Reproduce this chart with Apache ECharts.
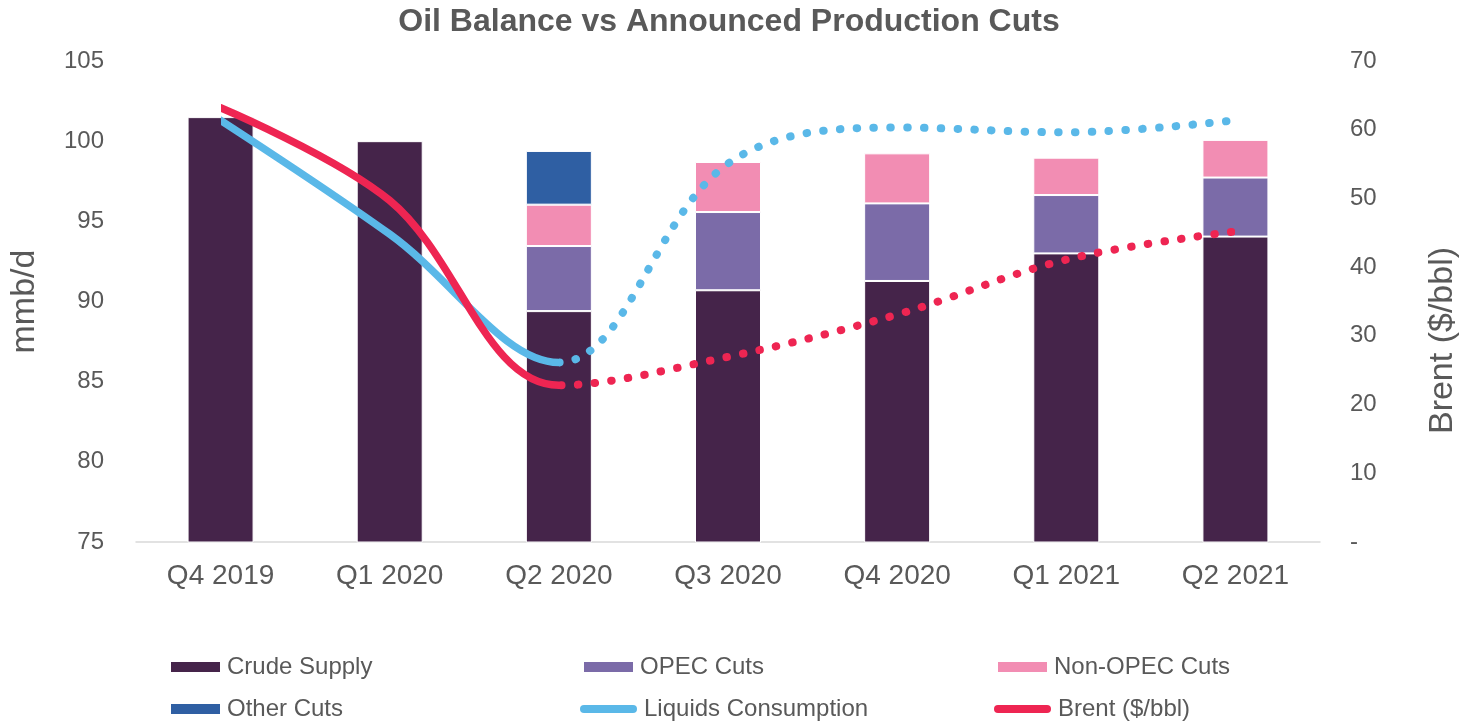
<!DOCTYPE html>
<html>
<head>
<meta charset="utf-8">
<script src="https://cdn.jsdelivr.net/npm/echarts@6/dist/echarts.min.js"></script>
<style>
html,body{margin:0;padding:0;background:#fff;}
#chart{width:1468px;height:723px;}
</style>
</head>
<body>
<div id="chart"></div>
<script>
var categories = ['Q4 2019', 'Q1 2020', 'Q2 2020', 'Q3 2020', 'Q4 2020', 'Q1 2021', 'Q2 2021'];
var crudeSupply = [101.5, 100.0, 89.4, 90.7, 91.28, 93.0, 94.05];
var opecCuts = [null, null, 4.06, 4.88, 4.84, 3.64, 3.68];
var nonOpecCuts = [null, null, 2.58, 3.12, 3.12, 2.33, 2.35];
var otherCuts = [null, null, 3.35, null, null, null, null];
var liquidsConsumption = [101.3, 94.2, 86.2, 98.6, 100.85, 100.55, 101.3];
var brent = [63.2, 49.7, 22.8, 26.95, 33.1, 41.1, 45.2];
var leftTicks = { min: 75, max: 105, interval: 5 };
var rightTicks = { min: 0, max: 70, interval: 10 };
var lastActualIndex = 2;

var C = {
  crude: '#45244A', opec: '#7B6BA8', nonopec: '#F28DB3', other: '#2F5FA3',
  liquids: '#5AB8E8', brent: '#EE2552', text: '#595959'
};
var FONT = 'Liberation Sans, Arial, sans-serif';
var CLEAR = 'rgba(255,255,255,0)';

var chart = echarts.init(document.getElementById('chart'));

function barSeries(name, data, color) {
  return {
    name: name, type: 'bar', stack: 'supply', data: data, barWidth: 66,
    yAxisIndex: 0,
    itemStyle: { color: color, borderColor: '#ffffff', borderWidth: 1 },
    emphasis: { disabled: true }
  };
}
function lineSeries(name, data, color, axis, dotted) {
  return {
    name: name, type: 'line', data: data, yAxisIndex: axis, smooth: 0.36,
    showSymbol: false, symbol: 'none',
    lineStyle: dotted
      ? { width: 8, type: [0.5, 16.3], cap: 'round', join: 'round' }
      : { width: 7.5, cap: 'round', join: 'round' },
    itemStyle: { color: color },
    emphasis: { disabled: true },
    z: 5
  };
}

var lineIcon = 'path://M4,0 L53,0 A4,4 0 0 1 53,8 L4,8 A4,4 0 0 1 4,0 Z';

function legend(name, icon, color, left, top, w, h) {
  return {
    show: true, left: left, top: top, orient: 'horizontal', padding: 0,
    itemWidth: w, itemHeight: h, selectedMode: false,
    textStyle: { color: C.text, fontSize: 24, fontFamily: FONT, lineHeight: 26, padding: [0, 0, 0, 2] },
    data: [{ name: name, icon: icon, itemStyle: { color: color, borderWidth: 0 }, lineStyle: { width: 0 } }]
  };
}
function sectionMap(seriesIndex, lo, hi, color) {
  return {
    show: false, type: 'piecewise', dimension: 0, seriesIndex: seriesIndex,
    pieces: [{ gte: lo, lte: hi, color: color }],
    outOfRange: { color: CLEAR }
  };
}

var last = categories.length - 1;

var option = {
  animation: false,
  backgroundColor: '#ffffff',
  title: {
    text: 'Oil Balance vs Announced Production Cuts',
    left: 729, top: 6, textAlign: 'center', padding: 0,
    textStyle: { color: C.text, fontSize: 32, fontWeight: 'bold', fontFamily: FONT }
  },
  legend: [
    legend('Crude Supply', 'rect', C.crude, 171, 654, 49, 10),
    legend('OPEC Cuts', 'rect', C.opec, 584, 654, 49, 10),
    legend('Non-OPEC Cuts', 'rect', C.nonopec, 998, 654, 49, 10),
    legend('Other Cuts', 'rect', C.other, 171, 696, 49, 10),
    legend('Liquids Consumption', lineIcon, C.liquids, 580, 696, 57, 8),
    legend('Brent ($/bbl)', lineIcon, C.brent, 994, 696, 57, 8)
  ],
  visualMap: [
    sectionMap(4, 0, lastActualIndex, C.liquids),
    sectionMap(5, lastActualIndex, last, C.liquids),
    sectionMap(6, 0, lastActualIndex, C.brent),
    sectionMap(7, lastActualIndex, last, C.brent)
  ],
  grid: { left: 136, right: 146, top: 61, bottom: 181, containLabel: false },
  xAxis: {
    type: 'category', data: categories, boundaryGap: true,
    axisLine: { show: true, lineStyle: { color: '#D9D9D9', width: 1.5 } },
    axisTick: { show: false },
    axisLabel: { color: C.text, fontSize: 28, fontFamily: FONT, margin: 20 },
    splitLine: { show: false }
  },
  yAxis: [
    {
      type: 'value', min: leftTicks.min, max: leftTicks.max, interval: leftTicks.interval,
      name: 'mmb/d', nameLocation: 'middle', nameRotate: 90, nameGap: 94,
      nameTextStyle: { color: C.text, fontSize: 34, fontFamily: FONT },
      axisLine: { show: false }, axisTick: { show: false }, splitLine: { show: false },
      axisLabel: { color: C.text, fontSize: 24, fontFamily: FONT, margin: 32 }
    },
    {
      type: 'value', min: rightTicks.min, max: rightTicks.max, interval: rightTicks.interval,
      position: 'right',
      name: 'Brent ($/bbl)', nameLocation: 'middle', nameRotate: 90, nameGap: 106,
      nameTextStyle: { color: C.text, fontSize: 34, fontFamily: FONT, verticalAlign: 'top', padding: [0, 78, 0, 0] },
      axisLine: { show: false }, axisTick: { show: false }, splitLine: { show: false },
      axisLabel: {
        color: C.text, fontSize: 24, fontFamily: FONT, margin: 30,
        formatter: function (v) { return v === 0 ? '-' : String(v); }
      }
    }
  ],
  series: [
    barSeries('Crude Supply', crudeSupply, C.crude),
    barSeries('OPEC Cuts', opecCuts, C.opec),
    barSeries('Non-OPEC Cuts', nonOpecCuts, C.nonopec),
    barSeries('Other Cuts', otherCuts, C.other),
    lineSeries('Liquids Consumption', liquidsConsumption, C.liquids, 0, false),
    lineSeries('Liquids Consumption forecast', liquidsConsumption, C.liquids, 0, true),
    lineSeries('Brent ($/bbl)', brent, C.brent, 1, false),
    lineSeries('Brent forecast', brent, C.brent, 1, true)
  ]
};
chart.setOption(option);
</script>
</body>
</html>
